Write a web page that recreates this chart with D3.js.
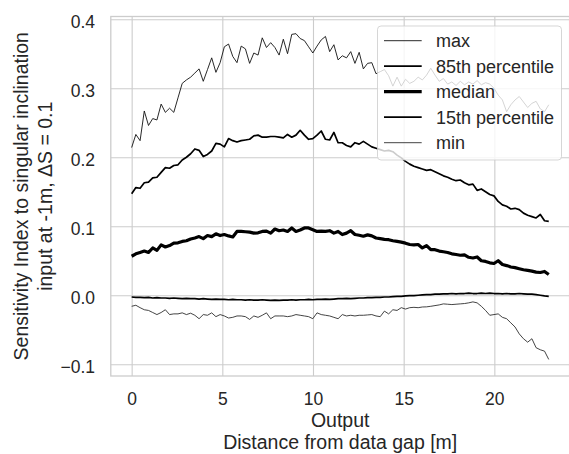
<!DOCTYPE html>
<html><head><meta charset="utf-8">
<script src="https://cdn.jsdelivr.net/npm/d3@7"></script>
<style>
body{margin:0;background:#fff}
text{font-family:"Liberation Sans",Arial,sans-serif;fill:#262626}
</style>
</head><body>
<svg id="c" width="569" height="454"></svg>
<script>
const seriesNames = ["max", "85th percentile", "median", "15th percentile", "min"];
const xStart = 0, xEnd = 23, nPoints = 100;
const xTicks = [0, 5, 10, 15, 20];
const yTicks = [-0.1, 0.0, 0.1, 0.2, 0.3, 0.4];
const xLabelLines = ["Output", "Distance from data gap [m]"];
const yLabelLines = ["Sensitivity Index to singular inclination", "input at -1m, \u0394S = 0.1"];

const maxValues = [0.214,0.233,0.224,0.267,0.246,0.256,0.254,0.277,0.265,0.271,0.265,0.286,0.307,0.312,0.316,0.322,0.328,0.310,0.327,0.344,0.323,0.337,0.360,0.364,0.346,
0.337,0.361,0.357,0.336,0.351,0.348,0.373,0.359,0.366,0.359,0.348,0.371,0.350,0.378,0.379,0.372,0.369,0.360,0.351,0.361,0.370,0.375,0.353,0.363,
0.341,0.347,0.344,0.353,0.336,0.352,0.328,0.336,0.337,0.321,0.324,0.327,0.318,0.303,0.316,0.303,0.313,0.307,0.310,0.316,0.312,0.319,0.329,
0.319,0.310,0.314,0.306,0.309,0.304,0.310,0.305,0.309,0.306,0.311,0.305,0.308,0.306,0.300,0.290,0.283,0.266,0.276,0.283,0.288,0.280,0.272,0.278,0.281,0.270,0.266,0.276];

const p85Values = [0.147,0.156,0.155,0.163,0.164,0.170,0.171,0.178,0.185,0.184,0.188,0.189,0.196,0.200,0.205,0.212,0.210,0.201,0.204,0.209,0.220,0.219,0.215,0.227,0.224,0.222,0.224,0.225,0.226,0.231,0.232,
0.229,0.229,0.230,0.230,0.229,0.228,0.233,0.229,0.232,0.239,0.232,0.226,0.227,0.232,0.238,0.226,0.225,0.236,
0.221,0.221,0.217,0.215,0.221,0.219,0.223,0.219,0.215,0.213,0.211,0.209,0.210,0.208,0.203,0.199,0.194,
0.190,0.187,0.185,0.183,0.181,0.182,0.179,0.176,0.173,0.171,0.168,0.166,0.167,0.163,0.160,0.161,0.152,0.154,0.150,0.146,0.144,0.136,0.131,0.129,0.125,0.126,0.124,0.119,0.116,0.114,0.112,0.117,0.108,0.107];

const medianValues = [0.0565,0.060,0.062,0.064,0.062,0.0685,0.065,0.073,0.070,0.072,0.0755,0.076,0.078,0.079,0.0815,0.083,0.085,0.082,0.0865,0.085,0.089,0.0865,0.088,0.086,0.0845,
0.0925,0.0925,0.092,0.0915,0.090,0.0905,0.0925,0.093,0.090,0.096,0.0935,0.0945,0.0925,0.0975,0.0925,0.0945,0.0975,0.0975,0.095,0.0925,0.093,0.0925,0.0935,0.090,0.0925,0.088,0.090,0.0935,0.088,0.087,0.0855,0.0875,
0.086,0.083,0.082,0.081,0.0805,0.079,0.078,0.077,0.0755,0.0735,0.073,0.0735,0.0685,0.072,0.066,0.066,0.064,0.063,0.062,0.060,0.059,0.058,0.0585,0.055,0.054,0.0555,0.050,0.049,0.047,0.046,0.050,0.0445,0.043,0.041,0.040,0.0385,0.037,0.036,0.035,0.0335,0.033,0.0345,0.030];

const p15Values = [-0.0025,-0.003,-0.003,-0.0035,-0.003,-0.004,-0.0035,-0.004,-0.004,-0.0045,-0.004,-0.0045,-0.005,-0.0045,-0.005,-0.005,-0.0055,-0.005,-0.0055,-0.006,
-0.0055,-0.006,-0.006,-0.0065,-0.006,-0.0065,-0.0065,-0.007,-0.0065,-0.007,-0.007,-0.0065,-0.007,-0.0075,-0.007,-0.0075,-0.007,-0.007,-0.0065,-0.007,
-0.0065,-0.0065,-0.006,-0.0065,-0.006,-0.006,-0.0055,-0.006,-0.0055,-0.005,-0.005,-0.0045,-0.005,-0.0045,-0.004,-0.004,-0.0035,-0.0035,-0.003,-0.003,
-0.0025,-0.0025,-0.002,-0.0015,-0.0015,-0.001,-0.0005,-0.0005,0.0,0.0005,0.001,0.001,0.0015,0.0015,0.002,0.002,0.0025,0.002,0.0025,0.0025,
0.003,0.0025,0.0025,0.003,0.0025,0.003,0.0025,0.0025,0.002,0.0025,0.002,0.002,0.0025,0.002,0.0015,0.0015,0.001,0.0,-0.001,-0.0015];

const minValues = [-0.016,-0.0145,-0.018,-0.021,-0.022,-0.025,-0.028,-0.025,-0.021,-0.028,-0.027,-0.027,-0.0255,-0.028,-0.026,-0.029,-0.034,-0.028,-0.029,-0.0255,-0.031,
-0.028,-0.030,-0.033,-0.032,-0.030,-0.030,-0.031,-0.035,-0.030,-0.032,-0.029,-0.0255,-0.034,-0.030,-0.030,-0.030,-0.031,-0.030,-0.028,-0.029,-0.030,-0.031,-0.034,-0.0255,-0.028,-0.029,-0.030,-0.032,-0.034,-0.028,-0.030,-0.029,-0.030,-0.029,-0.029,-0.0285,
-0.028,-0.030,-0.031,-0.023,-0.027,-0.021,-0.022,-0.018,-0.020,-0.018,-0.0175,-0.018,-0.017,-0.0168,-0.016,-0.015,-0.014,-0.0125,-0.013,-0.0135,-0.013,-0.0125,-0.012,-0.011,-0.0096,-0.011,-0.016,-0.022,-0.029,-0.028,-0.027,-0.032,-0.034,-0.040,-0.046,-0.056,-0.063,-0.068,-0.063,-0.076,-0.079,-0.081,-0.093];

const seriesValues = [maxValues, p85Values, medianValues, p15Values, minValues];
const lineStyles = [
  {w: 0.9, c: "#111"},
  {w: 1.7, c: "#000"},
  {w: 3.2, c: "#000"},
  {w: 1.7, c: "#000"},
  {w: 0.85, c: "#222"}
];

const xs = d3.range(nPoints).map(i => xStart + i * (xEnd - xStart) / (nPoints - 1));

const L = 110.8, R = 569.6, T = 16.5, B = 376;
const x = d3.scaleLinear().domain([-1.15, 24.15]).range([L, R]);
const y = d3.scaleLinear().domain([-0.117, 0.4039]).range([B, T]);

const svg = d3.select("#c");
svg.append("rect").attr("width", 569).attr("height", 454).attr("fill", "#fff");

// grid + axes
const gx = svg.append("g").attr("transform", `translate(0,${B})`)
  .call(d3.axisBottom(x).tickValues(xTicks).tickFormat(d3.format("d"))
    .tickSizeInner(-(B - T)).tickSizeOuter(0).tickPadding(17));
const gy = svg.append("g").attr("transform", `translate(${L},0)`)
  .call(d3.axisLeft(y).tickValues(yTicks).tickFormat(d => d3.format(".1f")(d).replace("-", "\u2212"))
    .tickSizeInner(-(R - L)).tickSizeOuter(0).tickPadding(15.8));
[gx, gy].forEach(g => {
  g.select(".domain").remove();
  g.selectAll(".tick line").attr("stroke", "#cccccc").attr("stroke-width", 1.1);
  g.selectAll(".tick text").attr("font-size", 17.5).attr("fill", "#262626")
    .style("font-family", '"Liberation Sans", Arial, sans-serif');
});
gy.selectAll(".tick text").attr("dy", "0.47em");

// frame
svg.append("rect").attr("x", L).attr("y", T).attr("width", R - L).attr("height", B - T)
  .attr("fill", "none").attr("stroke", "#cccccc").attr("stroke-width", 1.3);

// lines
const line = d3.line().x((d, i) => x(xs[i])).y(d => y(d));
seriesValues.forEach((vals, k) => {
  svg.append("path").datum(vals).attr("d", line)
    .attr("fill", "none").attr("stroke", lineStyles[k].c)
    .attr("stroke-width", lineStyles[k].w).attr("stroke-linejoin", "round");
});

// axis labels
const xl = svg.append("text").attr("text-anchor", "middle").attr("font-size", 19.5);
xLabelLines.forEach((t, i) => xl.append("tspan").attr("x", (L + R) / 2).attr("y", 427 + i * 22).text(t));
const yl = svg.append("text").attr("text-anchor", "middle").attr("font-size", 19.5)
  .attr("transform", `translate(28,${(T + B) / 2}) rotate(-90)`);
yLabelLines.forEach((t, i) => yl.append("tspan").attr("x", 0).attr("y", i * 23.6).text(t));

// legend
const lg = svg.append("g");
lg.append("rect").attr("x", 377.5).attr("y", 26).attr("width", 184).attr("height", 134)
  .attr("rx", 3.5).attr("fill", "#fff").attr("fill-opacity", 0.8)
  .attr("stroke", "#cccccc").attr("stroke-opacity", 0.8).attr("stroke-width", 1);
seriesNames.forEach((name, k) => {
  const cy = 40.7 + k * 25.5;
  lg.append("line").attr("x1", 384).attr("x2", 421.7).attr("y1", cy).attr("y2", cy)
    .attr("stroke", lineStyles[k].c).attr("stroke-width", lineStyles[k].w);
  lg.append("text").attr("x", 436).attr("y", cy + 6.4).attr("font-size", 18).text(name);
});
</script>
</body></html>
